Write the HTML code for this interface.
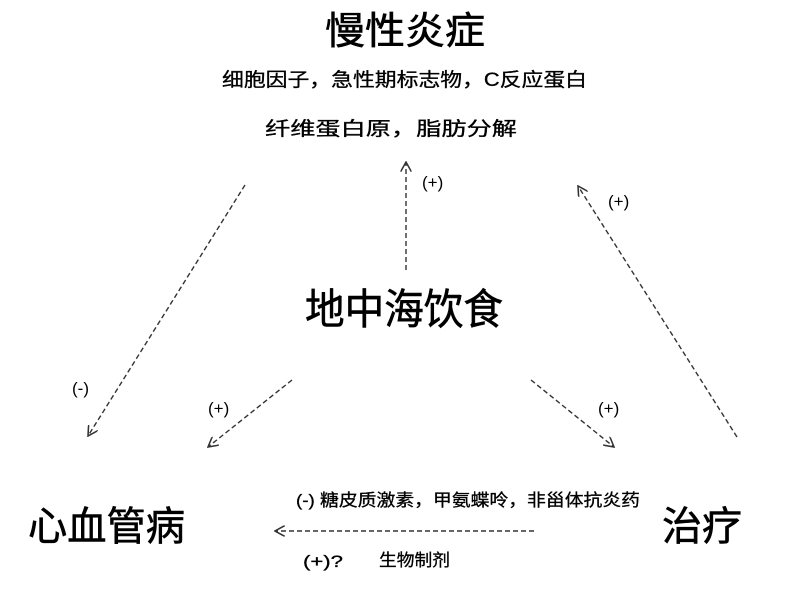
<!DOCTYPE html>
<html><head><meta charset="utf-8"><style>
html,body{margin:0;padding:0;background:#fff;}
svg{display:block;}
text{font-family:"Liberation Sans","Noto Sans CJK SC",sans-serif;fill:#000;}
</style></head><body>
<svg width="790" height="600" viewBox="0 0 790 600" xmlns="http://www.w3.org/2000/svg">
<defs>
<marker id="a" viewBox="0 0 10 10" refX="9" refY="5" markerWidth="11" markerHeight="11" markerUnits="userSpaceOnUse" orient="auto">
<path d="M0,0 L9,5 L0,10" fill="none" stroke="#333" stroke-width="1.4"/>
</marker>
</defs>
<g stroke="#000" stroke-width="0.6">
<text x="325" y="44" font-size="38" textLength="160" lengthAdjust="spacingAndGlyphs">慢性炎症</text>
<text x="305" y="324" font-size="42" textLength="198" lengthAdjust="spacingAndGlyphs">地中海饮食</text>
<text x="28" y="540" font-size="40" textLength="157" lengthAdjust="spacingAndGlyphs">心血管病</text>
<text x="662" y="540" font-size="40" textLength="80" lengthAdjust="spacingAndGlyphs">治疗</text>
</g>
<g stroke="#000" stroke-width="0.3">
<text x="222" y="86" font-size="19" textLength="365" lengthAdjust="spacingAndGlyphs">细胞因子，急性期标志物，C反应蛋白</text>
<text x="265" y="135" font-size="19" textLength="252" lengthAdjust="spacingAndGlyphs">纤维蛋白原，脂肪分解</text>
<text x="296" y="506" font-size="17" textLength="344" lengthAdjust="spacingAndGlyphs">(-) 糖皮质激素，甲氨蝶呤，非甾体抗炎药</text>
<text x="303" y="567" font-size="17" textLength="40" lengthAdjust="spacingAndGlyphs">(+)?</text>
<text x="379" y="566" font-size="17" textLength="71" lengthAdjust="spacingAndGlyphs">生物制剂</text>
</g>
<g font-size="17">
<text x="422" y="188">(+)</text>
<text x="72" y="394">(-)</text>
<text x="208" y="414">(+)</text>
<text x="598" y="414">(+)</text>
<text x="608" y="207">(+)</text>
</g>
<g stroke="#333" stroke-width="1.4" stroke-dasharray="5,3" fill="none" marker-end="url(#a)">
<line x1="406" y1="270" x2="406" y2="162"/>
<line x1="245" y1="185" x2="88" y2="436"/>
<line x1="292" y1="380" x2="208" y2="447"/>
<line x1="531" y1="380" x2="614" y2="447"/>
<line x1="737" y1="437" x2="578" y2="186"/>
<line x1="534" y1="531" x2="275" y2="531"/>
</g>
</svg>
</body></html>
